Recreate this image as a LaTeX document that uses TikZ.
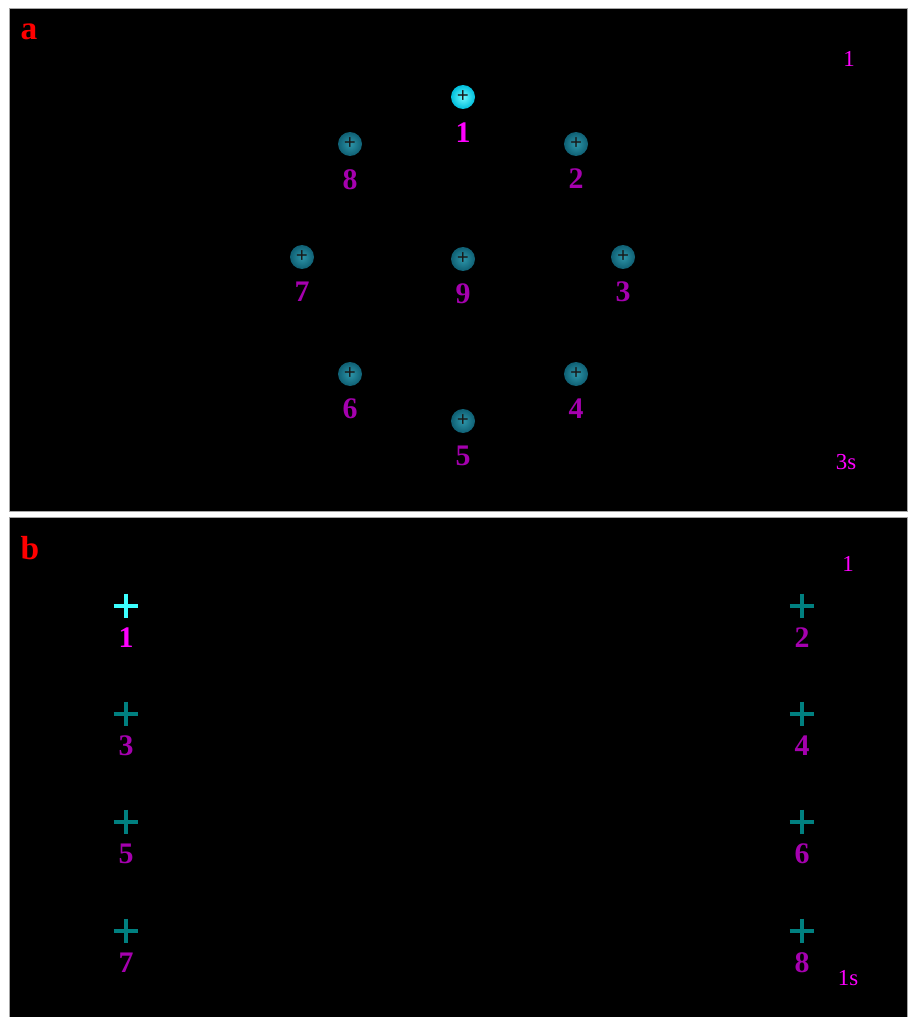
\documentclass[tikz,border=0pt]{standalone}
\usepackage{fontspec}
\setmainfont{Liberation Serif}
\definecolor{ionteal}{RGB}{15,95,115}
\definecolor{iontealin}{RGB}{45,150,170}
\definecolor{ioncyan}{RGB}{0,190,220}
\definecolor{ioncyanin}{RGB}{110,250,255}
\definecolor{crossteal}{RGB}{0,128,128}
\definecolor{crosscyan}{RGB}{60,255,255}
\definecolor{labelpurple}{RGB}{165,0,175}
\definecolor{labelmag}{RGB}{255,0,255}
\usetikzlibrary{positioning,shadings}
\tikzset{
  panel/.style={fill=black,draw=gray!70,line width=0.4pt},
  ion/.style={circle,minimum size=0.48cm,inner sep=0pt,shading=radial,
              inner color=iontealin,outer color=ionteal,
              font=\fontsize{12}{12}\selectfont\bfseries,text=black!90},
  hotion/.style={ion,inner color=ioncyanin,outer color=ioncyan},
  ionlabel/.style={inner sep=0pt,font=\fontsize{17}{17}\selectfont\bfseries,
                   text=#1},
  ionlabel/.default=labelpurple,
  cross/.style={minimum size=0.48cm,inner sep=0pt},
  crossline/.style={line width=0.08cm,#1},
  tag/.style={font=\fontsize{19}{19}\selectfont\bfseries,text=red},
  note/.style={font=\fontsize{13}{13}\selectfont,text=labelmag},
}
\begin{document}
\begin{tikzpicture}[x=0.02cm,y=-0.02cm]
  \useasboundingbox (0,0) rectangle (907,1017);
  \fill[white] (0,0) rectangle (907,1017);
  \draw[panel] (9,8) rectangle (907,511);
  \draw[panel] (9,517) rectangle (907,1017);

  \node[tag] (taga) at (29,32) {a};
  \node[note] (cnta) at (849,59) {1};
  \node[note] (tima) at (846,462) {3s};
  \node[hotion] (a1) at (463,97) {+};
  \node[ionlabel=labelmag,below=0.27cm of a1] (la1) {1};
  \foreach \n/\x/\y in {2/576/144,3/623/257,4/576/374,5/463/421,
                        6/350/374,7/302/257,8/350/144,9/463/259}{
    \node[ion] (a\n) at (\x,\y) {+};
    \node[ionlabel,below=0.25cm of a\n] (la\n) {\n};
  }

  \node[tag] (tagb) at (30,548) {b};
  \node[note] (cntb) at (848,564) {1};
  \node[note] (timb) at (848,978) {1s};
  \node[cross] (b1) at (126,606) {};
  \draw[crossline=crosscyan] (b1.north) -- (b1.south) (b1.west) -- (b1.east);
  \node[ionlabel=labelmag,below=0.18cm of b1] (lb1) {1};
  \foreach \n/\x/\y in {2/802/606,3/126/714,4/802/714,5/126/822,
                        6/802/822,7/126/931,8/802/931}{
    \node[cross] (b\n) at (\x,\y) {};
    \draw[crossline=crossteal] (b\n.north) -- (b\n.south) (b\n.west) -- (b\n.east);
    \node[ionlabel,below=0.18cm of b\n] (lb\n) {\n};
  }
\end{tikzpicture}
\end{document}
